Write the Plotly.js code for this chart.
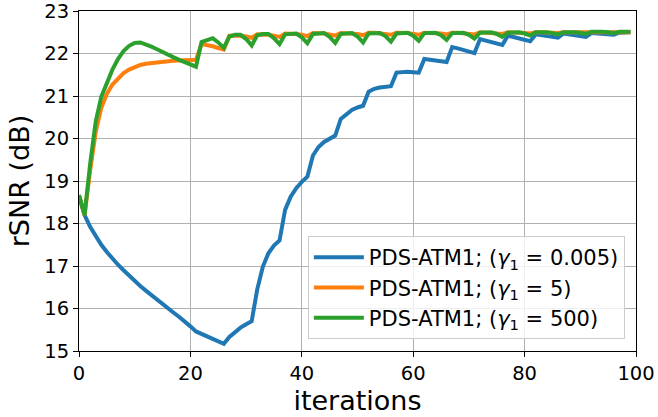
<!DOCTYPE html>
<html>
<head>
<meta charset="utf-8">
<script src="https://cdn.plot.ly/plotly-3.0.1.min.js"></script>
<style>html,body{margin:0;padding:0;background:#fff;}#chart{width:658px;height:417px;}</style>
</head>
<body>
<div id="chart"></div>
<script>
const iterations = Array.from({length: 100}, (_, i) => i);

const seriesNames = [
  'PDS-ATM1; (<i>γ</i><sub>1</sub> = 0.005)',
  'PDS-ATM1; (<i>γ</i><sub>1</sub> = 5)',
  'PDS-ATM1; (<i>γ</i><sub>1</sub> = 500)'
];

const rsnrGamma0005 = [
  18.65, 18.2, 17.92, 17.7, 17.5, 17.33, 17.17, 17.03, 16.9, 16.77,
  16.65, 16.53, 16.42, 16.31, 16.2, 16.1, 16.0, 15.9, 15.8, 15.7,
  15.58, 15.46, 15.4, 15.34, 15.28, 15.22, 15.17, 15.33, 15.45, 15.55,
  15.63, 15.7, 16.45, 16.98, 17.3, 17.48, 17.6, 18.32, 18.63, 18.83,
  18.98, 19.1, 19.6, 19.8, 19.92, 20.0, 20.07, 20.46, 20.58, 20.67,
  20.73, 20.77, 21.1, 21.17, 21.2, 21.22, 21.23, 21.55, 21.57, 21.57,
  21.56, 21.55, 21.87, 21.86, 21.84, 21.82, 21.8, 22.15, 22.12, 22.08,
  22.04, 22.01, 22.34, 22.3, 22.26, 22.23, 22.2, 22.42, 22.39, 22.35,
  22.32, 22.29, 22.45, 22.43, 22.41, 22.39, 22.37, 22.47, 22.45, 22.43,
  22.41, 22.39, 22.48, 22.47, 22.46, 22.45, 22.44, 22.49, 22.5, 22.5
];

const rsnrGamma5 = [
  18.65, 18.2, 19.25, 20.15, 20.72, 21.05, 21.27, 21.42, 21.54, 21.62,
  21.68, 21.73, 21.76, 21.78, 21.8, 21.81, 21.82, 21.83, 21.84, 21.84,
  21.85, 21.85, 22.22, 22.2, 22.17, 22.13, 22.09, 22.42, 22.43, 22.42,
  22.4, 22.37, 22.45, 22.45, 22.44, 22.42, 22.39, 22.47, 22.47, 22.46,
  22.44, 22.41, 22.48, 22.48, 22.47, 22.45, 22.42, 22.48, 22.48, 22.47,
  22.46, 22.43, 22.49, 22.49, 22.48, 22.46, 22.44, 22.49, 22.49, 22.48,
  22.46, 22.44, 22.49, 22.49, 22.48, 22.47, 22.45, 22.49, 22.49, 22.48,
  22.47, 22.45, 22.5, 22.49, 22.49, 22.48, 22.46, 22.5, 22.5, 22.49,
  22.48, 22.47, 22.5, 22.5, 22.49, 22.49, 22.48, 22.5, 22.5, 22.5,
  22.49, 22.48, 22.5, 22.5, 22.5, 22.49, 22.49, 22.5, 22.5, 22.5
];

const rsnrGamma500 = [
  18.67, 18.2, 19.4, 20.4, 20.98, 21.33, 21.62, 21.87, 22.06, 22.18,
  22.25, 22.26, 22.22, 22.16, 22.1, 22.03, 21.97, 21.91, 21.85, 21.8,
  21.75, 21.69, 22.27, 22.32, 22.36, 22.26, 22.13, 22.4, 22.44, 22.44,
  22.34, 22.19, 22.43, 22.46, 22.46, 22.36, 22.22, 22.45, 22.47, 22.47,
  22.38, 22.24, 22.46, 22.48, 22.48, 22.39, 22.25, 22.46, 22.48, 22.48,
  22.4, 22.26, 22.47, 22.48, 22.48, 22.41, 22.28, 22.47, 22.49, 22.49,
  22.42, 22.3, 22.48, 22.49, 22.49, 22.43, 22.32, 22.48, 22.49, 22.49,
  22.44, 22.35, 22.49, 22.5, 22.5, 22.46, 22.39, 22.49, 22.5, 22.5,
  22.47, 22.42, 22.5, 22.51, 22.5, 22.48, 22.45, 22.5, 22.51, 22.5,
  22.49, 22.46, 22.51, 22.52, 22.51, 22.5, 22.48, 22.51, 22.52, 22.51
];

const xTickVals = [0, 20, 40, 60, 80, 100];
const yTickVals = [15, 16, 17, 18, 19, 20, 21, 22, 23];

const colors = ['#1f77b4', '#ff7f0e', '#2ca02c'];
const allSeries = [rsnrGamma0005, rsnrGamma5, rsnrGamma500];

const traces = allSeries.map((ys, k) => ({
  x: iterations,
  y: ys,
  type: 'scatter',
  mode: 'lines',
  name: seriesNames[k],
  line: {color: colors[k], width: 4}
}));

const font = {family: 'DejaVu Sans, sans-serif', color: '#000'};

const layout = {
  width: 658,
  height: 417,
  margin: {l: 79, r: 22, t: 11, b: 66},
  paper_bgcolor: '#fff',
  plot_bgcolor: '#fff',
  font: Object.assign({size: 19.5}, font),
  showlegend: true,
  legend: {
    x: 0.98, xanchor: 'right',
    y: 0.035, yanchor: 'bottom',
    bgcolor: 'rgba(255,255,255,0.8)',
    bordercolor: '#cccccc',
    borderwidth: 1,
    font: Object.assign({size: 21}, font),
    itemwidth: 50,
    traceorder: 'normal'
  },
  xaxis: {
    range: [0, 100],
    tickvals: xTickVals,
    ticktext: xTickVals.map(String),
    ticks: 'outside', ticklen: 5, tickwidth: 1, tickcolor: '#000',
    ticklabeloverflow: 'allow',
    showline: true, linecolor: '#000', linewidth: 1, mirror: true,
    showgrid: true, gridcolor: '#b0b0b0', gridwidth: 1,
    zeroline: false,
    tickfont: Object.assign({size: 19.5}, font),
    title: {text: 'iterations', font: Object.assign({size: 27}, font), standoff: 4}
  },
  yaxis: {
    range: [15, 23],
    tickvals: yTickVals,
    ticktext: yTickVals.map(String),
    ticks: 'outside', ticklen: 5, tickwidth: 1, tickcolor: '#000',
    ticklabeloverflow: 'allow',
    showline: true, linecolor: '#000', linewidth: 1, mirror: true,
    showgrid: true, gridcolor: '#b0b0b0', gridwidth: 1,
    zeroline: false,
    tickfont: Object.assign({size: 19.5}, font),
    title: {text: 'rSNR (dB)', font: Object.assign({size: 27}, font), standoff: 6}
  }
};

Plotly.newPlot('chart', traces, layout, {displayModeBar: false, staticPlot: true});
</script>
</body>
</html>
